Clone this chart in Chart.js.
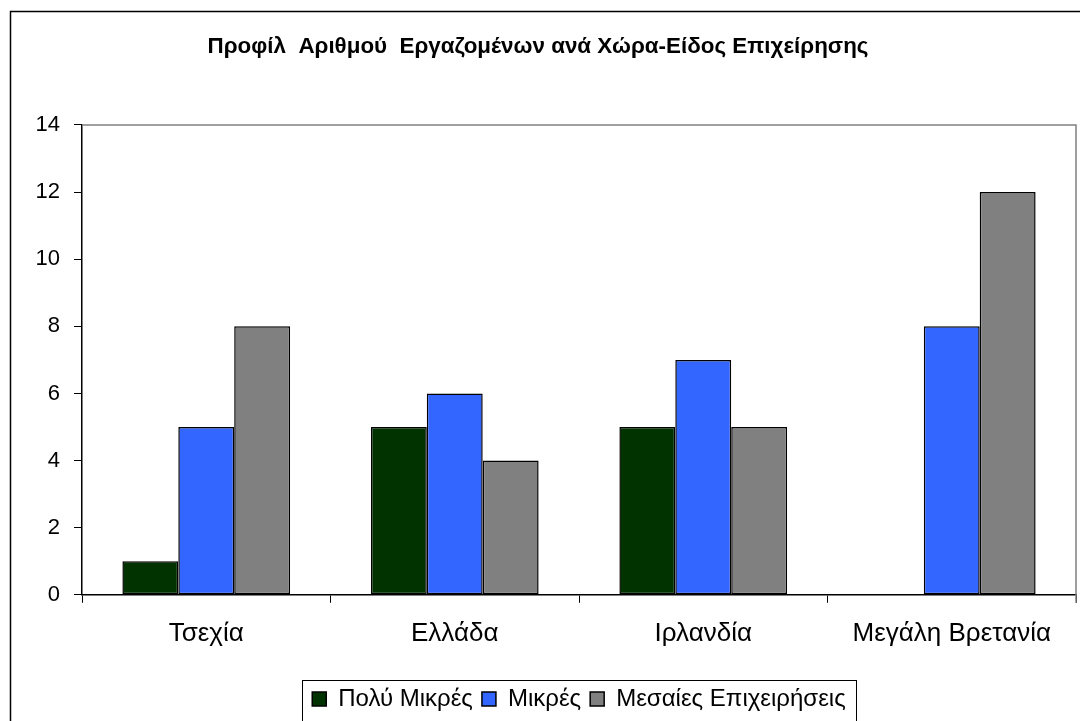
<!DOCTYPE html>
<html>
<head>
<meta charset="utf-8">
<script src="https://cdn.jsdelivr.net/npm/chart.js@4/dist/chart.umd.min.js"></script>
<style>
  html, body { margin: 0; padding: 0; background: #fff; }
  #wrap { width: 1080px; height: 721px; position: relative; }
</style>
</head>
<body>
<div id="wrap"><canvas id="c" width="1080" height="721"></canvas></div>
<script>
const titleText = 'Προφίλ  Αριθμού  Εργαζομένων ανά Χώρα-Είδος Επιχείρησης';
const categories = ['Τσεχία', 'Ελλάδα', 'Ιρλανδία', 'Μεγάλη Βρετανία'];
const seriesNames = ['Πολύ Μικρές', 'Μικρές', 'Μεσαίες Επιχειρήσεις'];
const veryMicro = [1, 5, 5, 0];
const small = [5, 6, 7, 8];
const medium = [8, 4, 5, 12];
const yTicks = [0, 2, 4, 6, 8, 10, 12, 14];
const colors = ['#003300', '#3366FF', '#808080'];

const FONT = '"Liberation Sans", Arial, sans-serif';

const framePlugin = {
  id: 'frame',
  beforeDraw(chart) {
    const ctx = chart.ctx;
    ctx.save();
    ctx.fillStyle = '#fff';
    ctx.fillRect(0, 0, chart.width, chart.height);
    ctx.restore();
  },
  afterDraw(chart) {
    const ctx = chart.ctx;
    const a = chart.chartArea;
    ctx.save();
    // outer chart frame
    ctx.strokeStyle = '#000';
    ctx.lineWidth = 1.5;
    ctx.strokeRect(10.5, 11.5, chart.width + 50, chart.height + 50);
    // plot area top & right border
    ctx.strokeStyle = '#808080';
    ctx.lineWidth = 1.5;
    ctx.beginPath();
    ctx.moveTo(a.left, a.top);
    ctx.lineTo(a.right, a.top);
    ctx.lineTo(a.right, a.bottom + 8);
    ctx.stroke();
    // legend frame
    const lg = chart.legend;
    if (lg && lg.legendHitBoxes && lg.legendHitBoxes.length) {
      let minL = Infinity, maxR = -Infinity;
      lg.legendHitBoxes.forEach(h => { minL = Math.min(minL, h.left); maxR = Math.max(maxR, h.left + h.width); });
      ctx.strokeStyle = '#000';
      ctx.lineWidth = 1;
      ctx.strokeRect(Math.round(minL - 10) + 0.5, Math.round(lg.top + 2) + 0.5, Math.round(maxR - minL + 20), chart.height);
    }
    ctx.restore();
  }
};

new Chart(document.getElementById('c'), {
  type: 'bar',
  data: {
    labels: categories,
    datasets: [
      { label: seriesNames[0], data: veryMicro, backgroundColor: colors[0] },
      { label: seriesNames[1], data: small, backgroundColor: colors[1] },
      { label: seriesNames[2], data: medium, backgroundColor: colors[2] }
    ].map(d => Object.assign(d, {
      borderColor: '#000', borderWidth: 1.5, borderSkipped: false,
      categoryPercentage: 0.675, barPercentage: 1.0
    }))
  },
  options: {
    responsive: false,
    animation: false,
    devicePixelRatio: 1,
    layout: { padding: { left: 0, right: 4, top: 0, bottom: 0 } },
    plugins: {
      title: {
        display: true,
        text: titleText,
        color: '#000',
        font: { family: FONT, size: 22.4, weight: 'bold', lineHeight: 1.2 },
        padding: { top: 33.6, bottom: 64.5 }
      },
      legend: {
        display: true,
        position: 'bottom',
        fullSize: false,
        labels: {
          color: '#000',
          font: { family: FONT, size: 24, lineHeight: 1.2 },
          boxWidth: 14,
          boxHeight: 14,
          padding: 9
        }
      },
      tooltip: { enabled: false }
    },
    scales: {
      x: {
        grid: { display: true, drawOnChartArea: false, drawTicks: true, tickLength: 8, color: '#000', offset: true },
        border: { display: true, color: '#000', width: 1.5 },
        ticks: { color: '#000', font: { family: FONT, size: 26 }, padding: 15, maxRotation: 0 },
        afterFit(s) { s.height = 83.2; }
      },
      y: {
        min: 0, max: 14,
        afterBuildTicks(s) { s.ticks = yTicks.map(v => ({ value: v })); },
        grid: { display: true, drawOnChartArea: false, drawTicks: true, tickLength: 8, color: '#000' },
        border: { display: true, color: '#000', width: 1.5 },
        ticks: { color: '#000', font: { family: FONT, size: 22 }, padding: 14 },
        afterFit(s) { s.width = 82; }
      }
    }
  },
  plugins: [framePlugin]
});
</script>
</body>
</html>
